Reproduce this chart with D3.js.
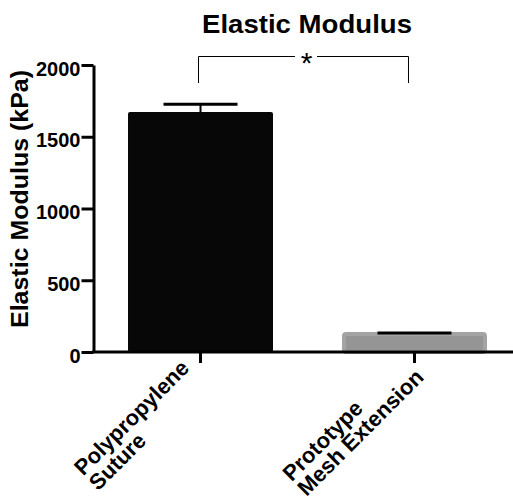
<!DOCTYPE html>
<html>
<head>
<meta charset="utf-8">
<script src="https://cdn.jsdelivr.net/npm/d3@7"></script>
<style>
  html, body { margin: 0; padding: 0; background: #fff; }
  svg { display: block; }
  text { font-family: "Liberation Sans", Arial, sans-serif; font-weight: bold; fill: #000; }
</style>
</head>
<body>
<svg id="chart" width="513" height="502"></svg>
<script>
// ---- data ----
const categories = [["Polypropylene", "Suture"], ["Prototype", "Mesh Extension"]];
const categoryKeys = ["Polypropylene Suture", "Prototype Mesh Extension"];
const means = [1672, 125];
const errors = [54, 8];
const yTicks = [0, 500, 1000, 1500, 2000];
const title = "Elastic Modulus";
const yLabel = "Elastic Modulus (kPa)";
const sigLabel = "*";

const svg = d3.select("#chart");

const y = d3.scaleLinear().domain([0, 2000]).range([352, 65]);
const x = d3.scaleBand().domain(categoryKeys).range([93, 522])
  .paddingInner(0.3224).paddingOuter(0.1636);

// title
svg.append("text").attr("x", 307).attr("y", 33).attr("text-anchor", "middle")
  .attr("font-size", 26).attr("textLength", 210).attr("lengthAdjust", "spacingAndGlyphs")
  .text(title);

// y label
svg.append("text")
  .attr("transform", "translate(28,199) rotate(-90)")
  .attr("text-anchor", "middle").attr("font-size", 23)
  .attr("textLength", 258).attr("lengthAdjust", "spacingAndGlyphs")
  .text(yLabel);

// bars
const fills = ["#070707", "#959595"];
const strokes = ["#070707", "#a4a4a4"];
svg.selectAll("rect.bar").data(categoryKeys).enter().append("rect")
  .attr("class", "bar")
  .attr("x", (d, i) => x(d) + (i === 1 ? 2 : 0))
  .attr("width", (d, i) => x.bandwidth() - (i === 1 ? 4 : 0))
  .attr("y", (d, i) => y(means[i]))
  .attr("height", (d, i) => y(0) - y(means[i]))
  .attr("rx", 2)
  .attr("fill", (d, i) => fills[i])
  .attr("stroke", (d, i) => strokes[i])
  .attr("stroke-width", (d, i) => i === 1 ? 4 : 0);

// error bars
const capW = 74;
categoryKeys.forEach((d, i) => {
  const cx = x(d) + x.bandwidth() / 2;
  svg.append("line").attr("x1", cx).attr("x2", cx)
    .attr("y1", y(means[i])).attr("y2", y(means[i] + errors[i]))
    .attr("stroke", "#000").attr("stroke-width", 2);
  svg.append("line").attr("x1", cx - capW / 2).attr("x2", cx + capW / 2)
    .attr("y1", y(means[i] + errors[i])).attr("y2", y(means[i] + errors[i]))
    .attr("stroke", "#000").attr("stroke-width", 3);
});

// y axis
const yAxis = d3.axisLeft(y).tickValues(yTicks).tickFormat(d3.format("d"))
  .tickSize(12).tickSizeOuter(0).tickPadding(1);
const gy = svg.append("g").attr("transform", "translate(93.5,0)").call(yAxis);
gy.select(".domain").attr("stroke", "#000").attr("stroke-width", 3);
gy.selectAll(".tick line").attr("stroke", "#000").attr("stroke-width", 3);
gy.selectAll(".tick text").attr("font-size", 20).attr("dy", "0.5em")
  .style("font-family", "'Liberation Sans', Arial, sans-serif").style("font-weight", "bold");

// x axis
const xAxis = d3.axisBottom(x).tickSize(11).tickSizeOuter(0).tickFormat("");
const gx = svg.append("g").attr("transform", "translate(0,352)").call(xAxis);
gx.select(".domain").remove();
gx.selectAll(".tick line").attr("stroke", "#000").attr("stroke-width", 3);
svg.append("line").attr("x1", 92).attr("x2", 513).attr("y1", 352).attr("y2", 352)
  .attr("stroke", "#000").attr("stroke-width", 3);

// x labels (rotated, left-aligned lines, block centered)
categoryKeys.forEach((d, i) => {
  const cx = x(d) + x.bandwidth() / 2;
  const g = svg.append("g").attr("transform", `translate(${cx},365) rotate(-45)`);
  const texts = categories[i].map((line, j) =>
    g.append("text").attr("font-size", 22).attr("y", -4 + j * 21).text(line));
  const widths = texts.map(t => t.node().getComputedTextLength());
  const maxW = d3.max(widths);
  texts.forEach(t => t.attr("x", -86 - maxW / 2));
});

// significance bracket
const x1c = x(categoryKeys[0]) + x.bandwidth() / 2 - 2;
const x2c = x(categoryKeys[1]) + x.bandwidth() / 2 - 6;
const by = 56.5, bBottom = 83;
const bracket = svg.append("g").attr("stroke", "#000").attr("stroke-width", 1).attr("fill", "none");
bracket.append("path").attr("d", `M${x1c},${bBottom}V${by}H295`);
bracket.append("path").attr("d", `M317,${by}H${x2c}V${bBottom}`);
svg.append("text").attr("x", (x1c + x2c) / 2 + 3).attr("y", 73).attr("text-anchor", "middle")
  .attr("font-size", 30).style("font-weight", "normal").text(sigLabel);
</script>
</body>
</html>
